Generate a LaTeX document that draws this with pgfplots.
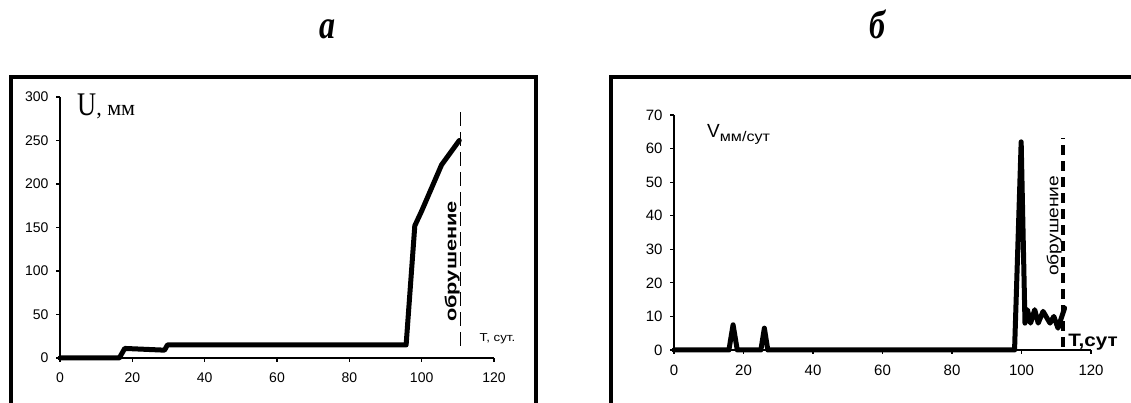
\documentclass[border=0pt]{standalone}
\usepackage{pgfplots}
\pgfplotsset{compat=1.18}
\usepackage{fontspec}
\setmainfont{Liberation Sans}
\newfontfamily\serif{Liberation Serif}
\usepackage{graphicx}
\begin{document}
\begin{tikzpicture}[x=1pt,y=1pt]
\useasboundingbox (0,0) rectangle (1131,403);
\clip (0,0) rectangle (1131,403);
% frames
\draw[line width=4pt] (11,-5) -- (11,325.5) -- (536,325.5) -- (536,-5);
\draw[line width=4pt] (611,-5) -- (611,325.5) -- (1140,325.5);
% titles
\node[anchor=base,inner sep=0] at (327,364) {\fontsize{40}{40}\selectfont\serif\bfseries\itshape\scalebox{0.8}[1]{а}};
\node[anchor=base,inner sep=0] at (877,364) {\fontsize{40}{40}\selectfont\serif\bfseries\itshape\scalebox{0.8}[1]{б}};

\begin{axis}[at={(60pt,45pt)}, anchor=south west, scale only axis,
  width=434pt, height=261pt,
  xmin=0, xmax=120, ymin=0, ymax=300,
  axis x line=bottom, axis y line=left,
  axis line style={line width=1.3pt,-},
  tick align=outside, major tick length=4pt,
  tick style={line width=1.2pt, black},
  xtick={0,20,...,120}, ytick={0,50,...,300},
  ticklabel style={font=\fontsize{14}{14}\selectfont},
  xticklabel style={yshift=-7pt},
  yticklabel style={xshift=-4pt},
  /pgf/number format/assume math mode=true,
  clip=false]
\addplot[line width=5pt, line join=round, line cap=round] coordinates {
 (0,0) (16.4,0) (17.9,11) (28.9,9) (29.7,15) (95.7,15) (98.1,152) (100,169) (105.5,222) (110.4,250)};
\draw[line width=1.4pt, dash pattern=on 14pt off 6pt] (axis cs:110.7,14) -- (axis cs:110.7,284);
\node[rotate=90, anchor=base, inner sep=0] at (axis cs:109.6,111) {\fontsize{16}{16}\selectfont\bfseries\scalebox{1.36}[1]{обрушение}};
\node[anchor=base west, inner sep=0] at (axis cs:116,19.5) {\fontsize{11.5}{11.5}\selectfont\scalebox{1.15}[1]{T, сут.}};
\node[anchor=base west, inner sep=0] at (axis cs:4.7,279) {\serif\fontsize{33}{33}\selectfont\scalebox{0.8}[1]{U}\fontsize{22}{22}\selectfont, мм};
\end{axis}

\begin{axis}[at={(674pt,53pt)}, anchor=south west, scale only axis,
  width=417pt, height=235pt,
  xmin=0, xmax=120, ymin=0, ymax=70,
  axis x line=bottom, axis y line=left,
  axis line style={line width=1.3pt,-},
  tick align=outside, major tick length=4pt,
  tick style={line width=1.2pt, black},
  xtick={0,20,...,120}, ytick={0,10,...,70},
  ticklabel style={font=\fontsize{15}{15}\selectfont},
  xticklabel style={yshift=-7pt},
  yticklabel style={xshift=-4pt},
  /pgf/number format/assume math mode=true,
  clip=false]
\addplot[line width=5pt, line join=round, line cap=round] coordinates {
 (0,0) (15.8,0) (17,7.5) (18.2,0) (25,0) (26,6.5) (27,0) (98,0) (99.9,62) (101,8)
 (101.7,12) (102.6,8) (103.8,12) (104.8,8) (106.2,11.5) (108.2,8) (109.3,10) (110.5,6.5) (112.4,12.5)};
\draw[line width=3.5pt, dash pattern=on 10pt off 6pt] (axis cs:111.9,1) -- (axis cs:111.9,63);
\node[rotate=90, anchor=base, inner sep=0] at (axis cs:110.6,37) {\fontsize{16}{16}\selectfont\scalebox{1.2}[1]{обрушение}};
\node[anchor=base west, inner sep=0] at (axis cs:113.4,0.9) {\fontsize{18}{18}\selectfont\bfseries\scalebox{1.15}[1]{T,сут}};
\node[anchor=base west, inner sep=0] at (axis cs:9.5,63.4) {\fontsize{19}{19}\selectfont V\raisebox{-4pt}{\fontsize{14}{14}\selectfont\scalebox{1.15}[1]{мм/сут}}};
\end{axis}
\end{tikzpicture}
\end{document}
